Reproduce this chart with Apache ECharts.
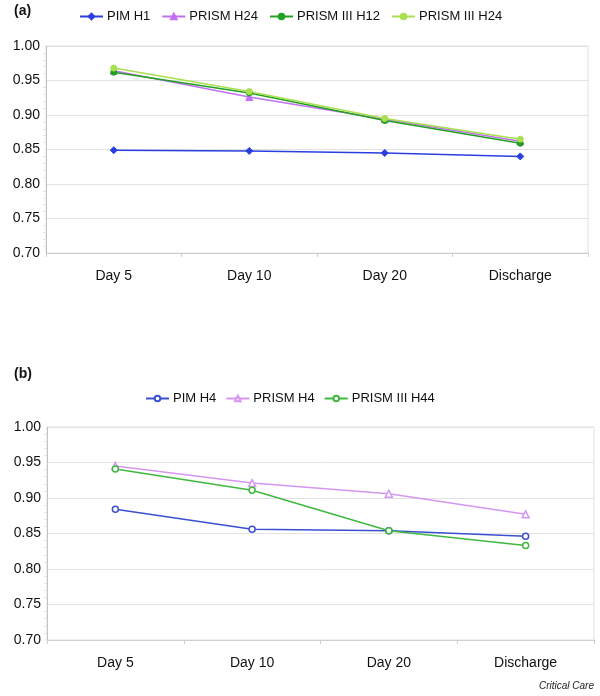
<!DOCTYPE html>
<html>
<head>
<meta charset="utf-8">
<script src="https://cdn.jsdelivr.net/npm/echarts@6/dist/echarts.min.js"></script>
<style>html,body{margin:0;padding:0;background:#fff}#c{width:600px;height:696px}</style>
</head>
<body>
<div id="c"></div>
<script>
const categories = ['Day 5', 'Day 10', 'Day 20', 'Discharge'];
const yTicks = [0.70, 0.75, 0.80, 0.85, 0.90, 0.95, 1.00];

// Panel (a)
const pimH1 = [0.849, 0.848, 0.845, 0.840];
const prismH24 = [0.964, 0.926, 0.894, 0.862];
const prism3H12 = [0.962, 0.932, 0.892, 0.859];
const prism3H24 = [0.968, 0.934, 0.895, 0.865];

// Panel (b)
const pimH4 = [0.884, 0.856, 0.854, 0.846];
const prismH4 = [0.945, 0.921, 0.906, 0.877];
const prism3H44 = [0.941, 0.911, 0.854, 0.833];

const FONT = 'Liberation Sans, Arial, sans-serif';

function xAxisCfg(gi) {
  return {
    type: 'category', gridIndex: gi, data: categories, boundaryGap: true,
    axisLine: { lineStyle: { color: '#cfcfcf' } },
    axisTick: { show: true, length: 4, lineStyle: { color: '#cfcfcf' } },
    axisLabel: { color: '#111', fontSize: 14, fontFamily: FONT, margin: 16 },
    splitLine: { show: false }
  };
}
function yAxisCfg(gi) {
  return {
    type: 'value', gridIndex: gi, min: yTicks[0], max: yTicks[yTicks.length - 1], interval: 0.05,
    axisLine: { show: true, lineStyle: { color: '#b8c8c8' } },
    axisTick: { show: false },
    minorTick: { show: true, splitNumber: 5, length: 3, lineStyle: { color: '#e4e4e4' } },
    axisLabel: { color: '#111', fontSize: 14, fontFamily: FONT, margin: 6,
      formatter: v => v.toFixed(2) },
    splitLine: { show: true, lineStyle: { color: '#e2e2e2', width: 1 } }
  };
}
function ser(name, data, gi, color, symbol, hollow, size) {
  return {
    name, type: 'line', data, xAxisIndex: gi, yAxisIndex: gi,
    symbol, symbolSize: size, showSymbol: true,
    lineStyle: { color, width: 1.5 },
    itemStyle: hollow ? { color: '#fff', borderColor: color, borderWidth: 1.5 }
                      : { color, borderColor: color, borderWidth: 1 },
    emphasis: { disabled: true }, animation: false
  };
}

const chart = echarts.init(document.getElementById('c'));
chart.setOption({
  animation: false,
  backgroundColor: '#fff',
  grid: [
    { left: 46, top: 46, width: 542, height: 207, show: true, borderColor: '#e0e0e0', borderWidth: 1, containLabel: false },
    { left: 47, top: 427, width: 547, height: 213, show: true, borderColor: '#e0e0e0', borderWidth: 1, containLabel: false }
  ],
  xAxis: [xAxisCfg(0), xAxisCfg(1)],
  yAxis: [yAxisCfg(0), yAxisCfg(1)],
  legend: [
    { data: ['PIM H1', 'PRISM H24', 'PRISM III H12', 'PRISM III H24'], left: 74, top: 5,
      itemWidth: 23, itemHeight: 7, itemGap: 11,
      textStyle: { fontSize: 13, fontFamily: FONT, color: '#111', padding: [0, 0, 0, -1] } },
    { data: ['PIM H4', 'PRISM H4', 'PRISM III H44'], left: 140, top: 387,
      itemWidth: 23, itemHeight: 7, itemGap: 9,
      textStyle: { fontSize: 13, fontFamily: FONT, color: '#111', padding: [0, 0, 0, -1] } }
  ],
  graphic: [
    { type: 'text', left: 14, top: 4, style: { text: '(a)', font: 'bold 14px ' + FONT, fill: '#111' } },
    { type: 'text', left: 14, top: 367, style: { text: '(b)', font: 'bold 14px ' + FONT, fill: '#111' } },
    { type: 'text', right: 6, top: 681, style: { text: 'Critical Care', font: 'italic 10px ' + FONT, fill: '#222' } }
  ],
  series: [
    ser('PIM H1', pimH1, 0, '#2a3fe0', 'diamond', false, 7),
    ser('PRISM H24', prismH24, 0, '#c070f0', 'triangle', false, 7),
    ser('PRISM III H12', prism3H12, 0, '#22a022', 'circle', false, 6),
    ser('PRISM III H24', prism3H24, 0, '#a8e050', 'circle', false, 6),
    ser('PIM H4', pimH4, 1, '#3a50d0', 'circle', true, 6),
    ser('PRISM H4', prismH4, 1, '#d596f2', 'triangle', true, 7),
    ser('PRISM III H44', prism3H44, 1, '#40b840', 'circle', true, 6)
  ]
});
</script>
</body>
</html>
